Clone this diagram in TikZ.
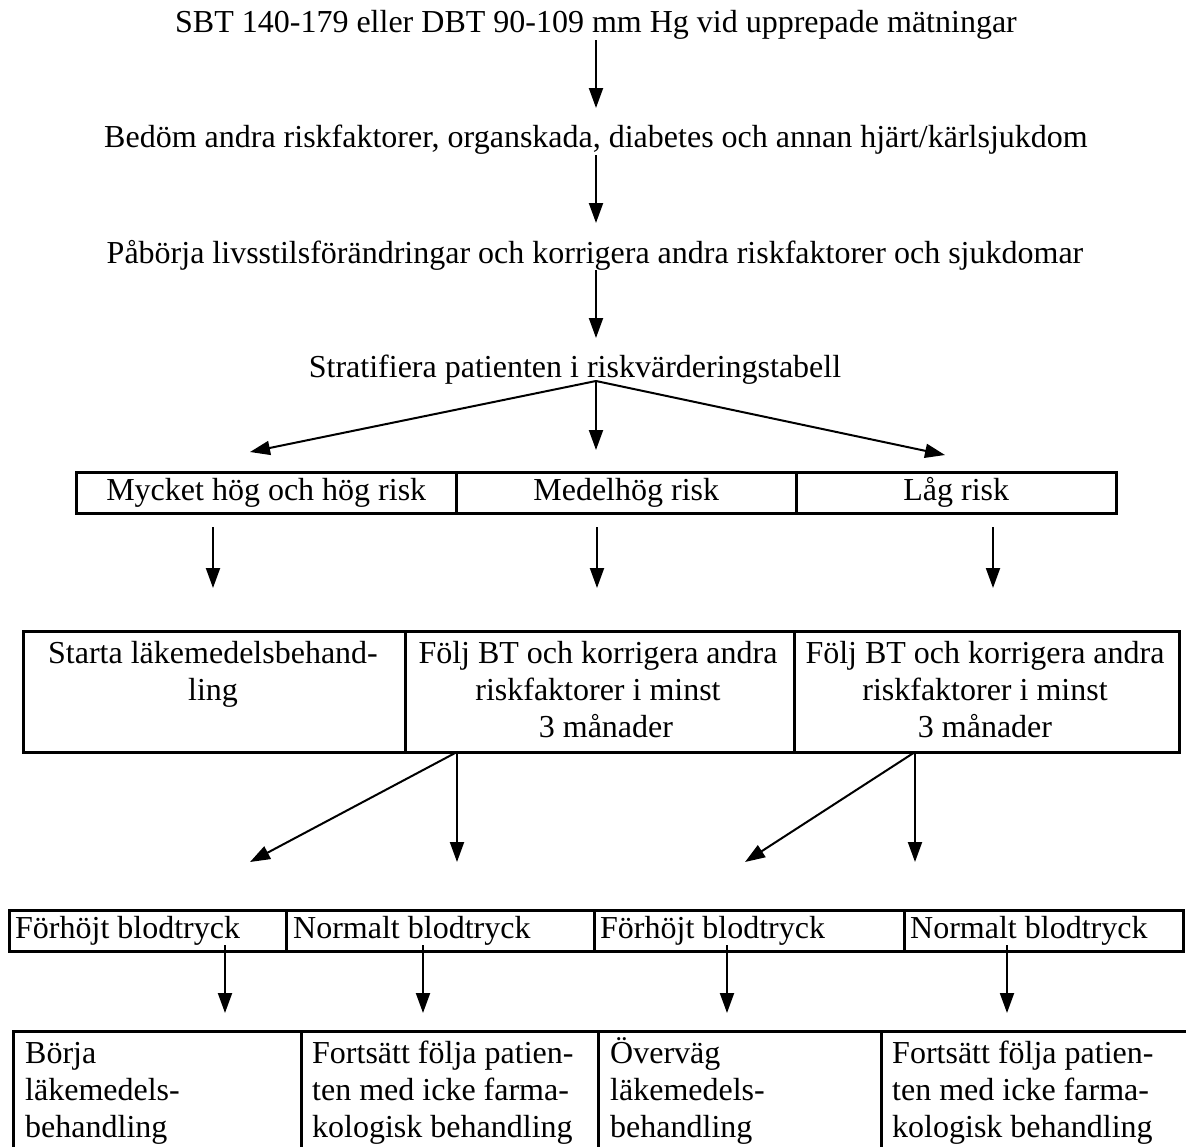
\documentclass[tikz,border=0pt]{standalone}
\usepackage{fontspec}
\setmainfont{Liberation Serif}
\usetikzlibrary{arrows.meta}
\newcommand{\topstrut}{\rule{0pt}{29pt}}
\begin{document}
\begin{tikzpicture}[x=1pt,y=-1pt,
  arr/.style={line width=2pt,-{Triangle[length=20pt,width=14pt]}},
  cell/.style={draw,line width=2.5pt,anchor=north west,inner sep=0pt},
  txt/.style={font=\fontsize{32}{37}\selectfont,inner sep=0pt},
]
\useasboundingbox (0,0) rectangle (1186,1146);
\clip (0,0) rectangle (1186,1146);
% top texts
\node[txt] (t1) at (596,25) {SBT 140-179 eller DBT 90-109 mm Hg vid upprepade mätningar};
\node[txt] (t2) at (596,140) {Bedöm andra riskfaktorer, organskada, diabetes och annan hjärt/kärlsjukdom};
\node[txt] (t3) at (595,255) {Påbörja livsstilsförändringar och korrigera andra riskfaktorer och sjukdomar};
\node[txt] (t4) at (575,370) {Stratifiera patienten i riskvärderingstabell};
\coordinate (s1) at (596,40);  \coordinate (e1) at (596,108);
\coordinate (s2) at (596,155); \coordinate (e2) at (596,223);
\coordinate (s3) at (596,270); \coordinate (e3) at (596,338);
\draw[arr] (s1) -- (e1);
\draw[arr] (s2) -- (e2);
\draw[arr] (s3) -- (e3);
% risk row
\node[cell,minimum width=380pt,minimum height=41pt] (r1) at (75,471) {};
\node[cell,minimum width=340pt,minimum height=41pt] (r2) at (455,471) {};
\node[cell,minimum width=320pt,minimum height=41pt] (r3) at (795,471) {};
\node[txt] (r1t) at (r1.center) {Mycket hög och hög risk};
\node[txt] (r2t) at (r2.center) {Medelhög risk};
\node[txt] (r3t) at (r3.center) {Låg risk};
\coordinate (o4) at (596,381);
\coordinate (tl) at (250,452);
\coordinate (tm) at (596,450);
\coordinate (tr) at (945,455);
\draw[arr] (o4) -- (tl);
\draw[arr] (o4) -- (tm);
\draw[arr] (o4) -- (tr);
% arrows to second row
\coordinate (u1) at (213,527); \coordinate (v1) at (213,588);
\coordinate (u2) at (597,527); \coordinate (v2) at (597,588);
\coordinate (u3) at (993,527); \coordinate (v3) at (993,588);
\draw[arr] (u1) -- (v1);
\draw[arr] (u2) -- (v2);
\draw[arr] (u3) -- (v3);
% second row
\node[cell,minimum width=382pt,minimum height=121pt] (b1) at (22,630) {};
\node[cell,minimum width=389pt,minimum height=121pt] (b2) at (404,630) {};
\node[cell,minimum width=385pt,minimum height=121pt] (b3) at (793,630) {};
\node[txt,align=center,anchor=north] (b1t) at (213,634) {\topstrut Starta läkemedelsbehand-\\ling};
\node[txt,align=center,anchor=north] (b2t) at (598,634) {\topstrut Följ BT och korrigera andra\\riskfaktorer i minst\\\hspace*{0.5em}3 månader};
\node[txt,align=center,anchor=north] (b3t) at (985,634) {\topstrut Följ BT och korrigera andra\\riskfaktorer i minst\\3 månader};
% branching
\coordinate (m2) at (457,752); \coordinate (m3) at (915,752);
\coordinate (p1) at (250,862); \coordinate (p2) at (457,862);
\coordinate (p3) at (745,862); \coordinate (p4) at (920,862);
\draw[arr] (m2) -- (p1);
\draw[arr] (m2) -- (p2);
\draw[arr] (m3) -- (p3);
\draw[arr] (m3) -- (m3 |- p4);
% third row
\node[cell,minimum width=277pt,minimum height=41pt] (c1) at (8,909) {};
\node[cell,minimum width=308pt,minimum height=41pt] (c2) at (285,909) {};
\node[cell,minimum width=310pt,minimum height=41pt] (c3) at (593,909) {};
\node[cell,minimum width=279pt,minimum height=41pt] (c4) at (903,909) {};
\node[txt,anchor=west] (c1t) at ([xshift=7pt]c1.west) {Förhöjt blodtryck};
\node[txt,anchor=west] (c2t) at ([xshift=8pt]c2.west) {Normalt blodtryck};
\node[txt,anchor=west] (c3t) at ([xshift=7pt]c3.west) {Förhöjt blodtryck};
\node[txt,anchor=west] (c4t) at ([xshift=7pt]c4.west) {Normalt blodtryck};
\coordinate (w1) at (225,945); \coordinate (z1) at (225,1013);
\coordinate (w2) at (423,945); \coordinate (z2) at (423,1013);
\coordinate (w3) at (727,945); \coordinate (z3) at (727,1013);
\coordinate (w4) at (1007,945); \coordinate (z4) at (1007,1013);
\draw[arr] (w1) -- (z1);
\draw[arr] (w2) -- (z2);
\draw[arr] (w3) -- (z3);
\draw[arr] (w4) -- (z4);
% fourth row
\node[cell,minimum width=288pt,minimum height=140pt] (d1) at (12,1030) {};
\node[cell,minimum width=297pt,minimum height=140pt] (d2) at (300,1030) {};
\node[cell,minimum width=283pt,minimum height=140pt] (d3) at (597,1030) {};
\node[cell,minimum width=320pt,minimum height=140pt] (d4) at (880,1030) {};
\node[txt,align=left,anchor=north west] (d1t) at (25,1034) {\topstrut Börja\\läkemedels-\\behandling};
\node[txt,align=left,anchor=north west] (d2t) at (312,1034) {\topstrut Fortsätt följa patien-\\ten med icke farma-\\kologisk behandling};
\node[txt,align=left,anchor=north west] (d3t) at (610,1034) {\topstrut Överväg\\läkemedels-\\behandling};
\node[txt,align=left,anchor=north west] (d4t) at (892,1034) {\topstrut Fortsätt följa patien-\\ten med icke farma-\\kologisk behandling};
\end{tikzpicture}
\end{document}
